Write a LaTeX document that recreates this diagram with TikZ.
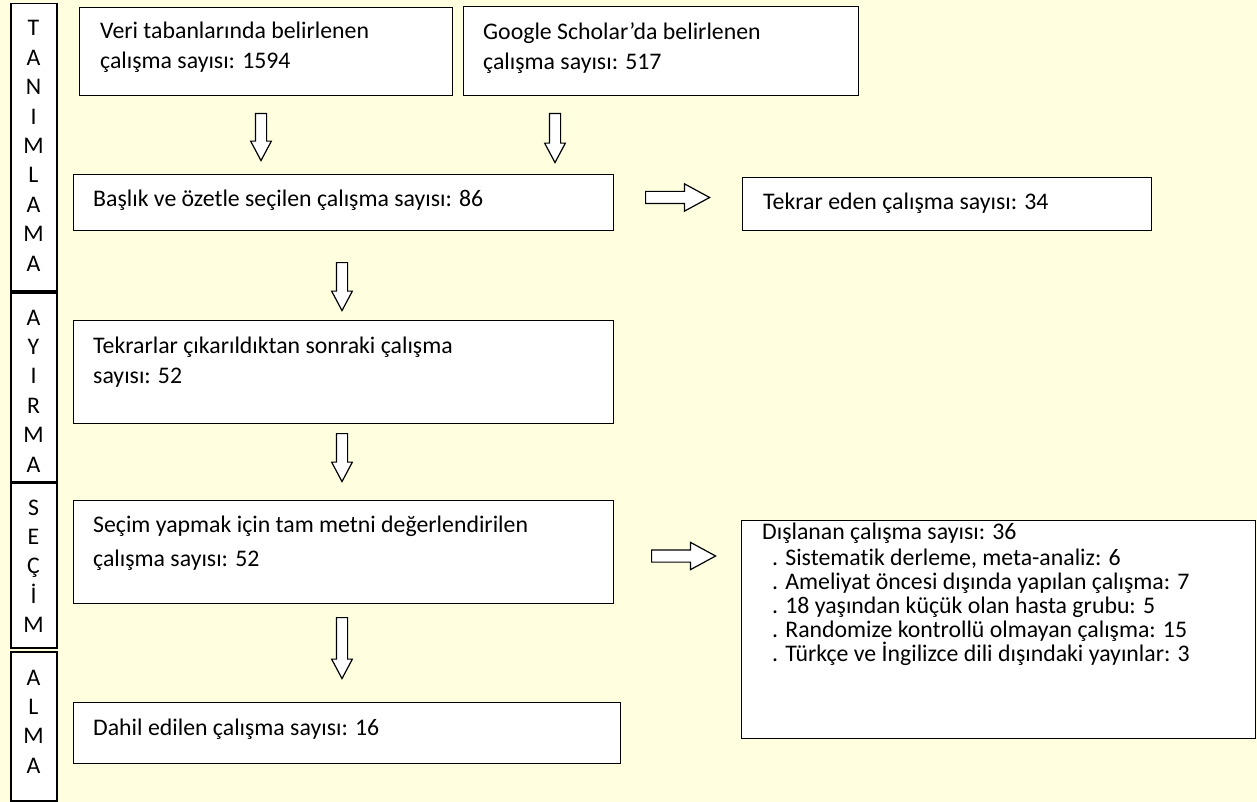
\documentclass[tikz,border=0pt]{standalone}
\usepackage{fontspec}
\setmainfont{Carlito}[Ligatures=NoCommon]
\usetikzlibrary{shapes.arrows}

\definecolor{paper}{RGB}{255,255,224}

\begin{document}
\begin{tikzpicture}[x=1pt,y=-1pt,
  box/.style={draw, fill=white, line width=1.3pt, anchor=north west, inner sep=0pt},
  txt/.style={anchor=base west, align=left, inner sep=0pt, font=\fontsize{23.8}{28}\selectfont},
  letter/.style={anchor=base, inner sep=0pt, font=\fontsize{23.8}{28}\selectfont},
  darrow/.style={draw, fill=white, line width=1.2pt, single arrow, rotate=-90, anchor=tail,
    inner sep=5pt, single arrow head extend=4.75pt, single arrow tip angle=56},
  rarrow/.style={draw, fill=white, line width=1.2pt, single arrow, anchor=tail,
    inner sep=5.5pt, single arrow head extend=7.5pt, single arrow tip angle=57}
]
\fill[paper] (0,0) rectangle (1257,802);
\useasboundingbox (0,0) rectangle (1257,802);

% Phase column
\node[box, line width=1.5pt, minimum width=46pt, minimum height=287pt] (tan) at (10,3) {};
\node[box, line width=1.5pt, minimum width=46pt, minimum height=189pt] (ayi) at (10,292) {};
\node[box, line width=1.5pt, minimum width=46pt, minimum height=165pt] (sec) at (10,482) {};
\node[box, line width=1.5pt, minimum width=46pt, minimum height=149pt] (alm) at (10,651) {};
\foreach \l [count=\i] in {T,A,N,I,M,L,A,M,A}
  \node[letter] (tan\i) at (33.5, 36+29.4*\i-29.4) {\l};
\foreach \l [count=\i] in {A,Y,I,R,M,A}
  \node[letter] (ayi\i) at (33.5, 325+29.4*\i-29.4) {\l};
\foreach \l [count=\i] in {S,E,Ç,İ,M}
  \node[letter] (sec\i) at (33.5, 515+29.4*\i-29.4) {\l};
\foreach \l [count=\i] in {A,L,M,A}
  \node[letter] (alm\i) at (33.5, 685+29.4*\i-29.4) {\l};

% Boxes (text nodes sit on the baseline of their last line)
\node[box, minimum width=373pt, minimum height=88pt] (veri) at (79,7) {};
\node[txt] (veriT) at (100,69) {Veri tabanlarında belirlenen\\[2pt]çalışma sayısı: 1594};
\node[box, minimum width=395pt, minimum height=89pt] (google) at (463,6) {};
\node[txt] (googleT) at (483,70) {Google Scholar’da belirlenen\\[2pt]çalışma sayısı: 517};
\node[box, minimum width=540pt, minimum height=56pt] (baslik) at (73,174) {};
\node[txt] (baslikT) at (93,207) {Başlık ve özetle seçilen çalışma sayısı: 86};
\node[box, minimum width=409pt, minimum height=53pt] (tekrar) at (742,177) {};
\node[txt] (tekrarT) at (763,210) {Tekrar eden çalışma sayısı: 34};
\node[box, minimum width=540pt, minimum height=103pt] (cikar) at (73,320) {};
\node[txt] (cikarT) at (93,383) {Tekrarlar çıkarıldıktan sonraki çalışma\\[2pt]sayısı: 52};
\node[box, minimum width=540pt, minimum height=103pt] (secim) at (73,500) {};
\node[txt] (secimT) at (93,566) {Seçim yapmak için tam metni değerlendirilen\\[6pt]çalışma sayısı: 52};
\node[box, minimum width=547pt, minimum height=61pt] (dahil) at (73,702) {};
\node[txt] (dahilT) at (93,735) {Dahil edilen çalışma sayısı: 16};
\node[box, minimum width=514pt, minimum height=218pt] (disla) at (741,520) {};
\node[txt, font=\fontsize{23.8}{23.8}\selectfont] (dislaT) at (762,661) {Dışlanan çalışma sayısı: 36\\[3pt]
  \hspace*{10pt}. Sistematik derleme, meta-analiz: 6\\
  \hspace*{10pt}. Ameliyat öncesi dışında yapılan çalışma: 7\\
  \hspace*{10pt}. 18 yaşından küçük olan hasta grubu: 5\\
  \hspace*{10pt}. Randomize kontrollü olmayan çalışma: 15\\
  \hspace*{10pt}. Türkçe ve İngilizce dili dışındaki yayınlar: 3};

% Arrows
\node[darrow, minimum height=47pt] (a1) at (261,113) {};
\node[darrow, minimum height=49pt] (a2) at (555,113) {};
\node[rarrow, minimum height=64pt] (a3) at (645,197.5) {};
\node[darrow, minimum height=48pt] (a4) at (342,262) {};
\node[darrow, minimum height=48pt] (a5) at (342,433) {};
\node[rarrow, minimum height=64pt] (a6) at (651,556) {};
\node[darrow, minimum height=61pt] (a7) at (342,617) {};
\end{tikzpicture}
\end{document}
